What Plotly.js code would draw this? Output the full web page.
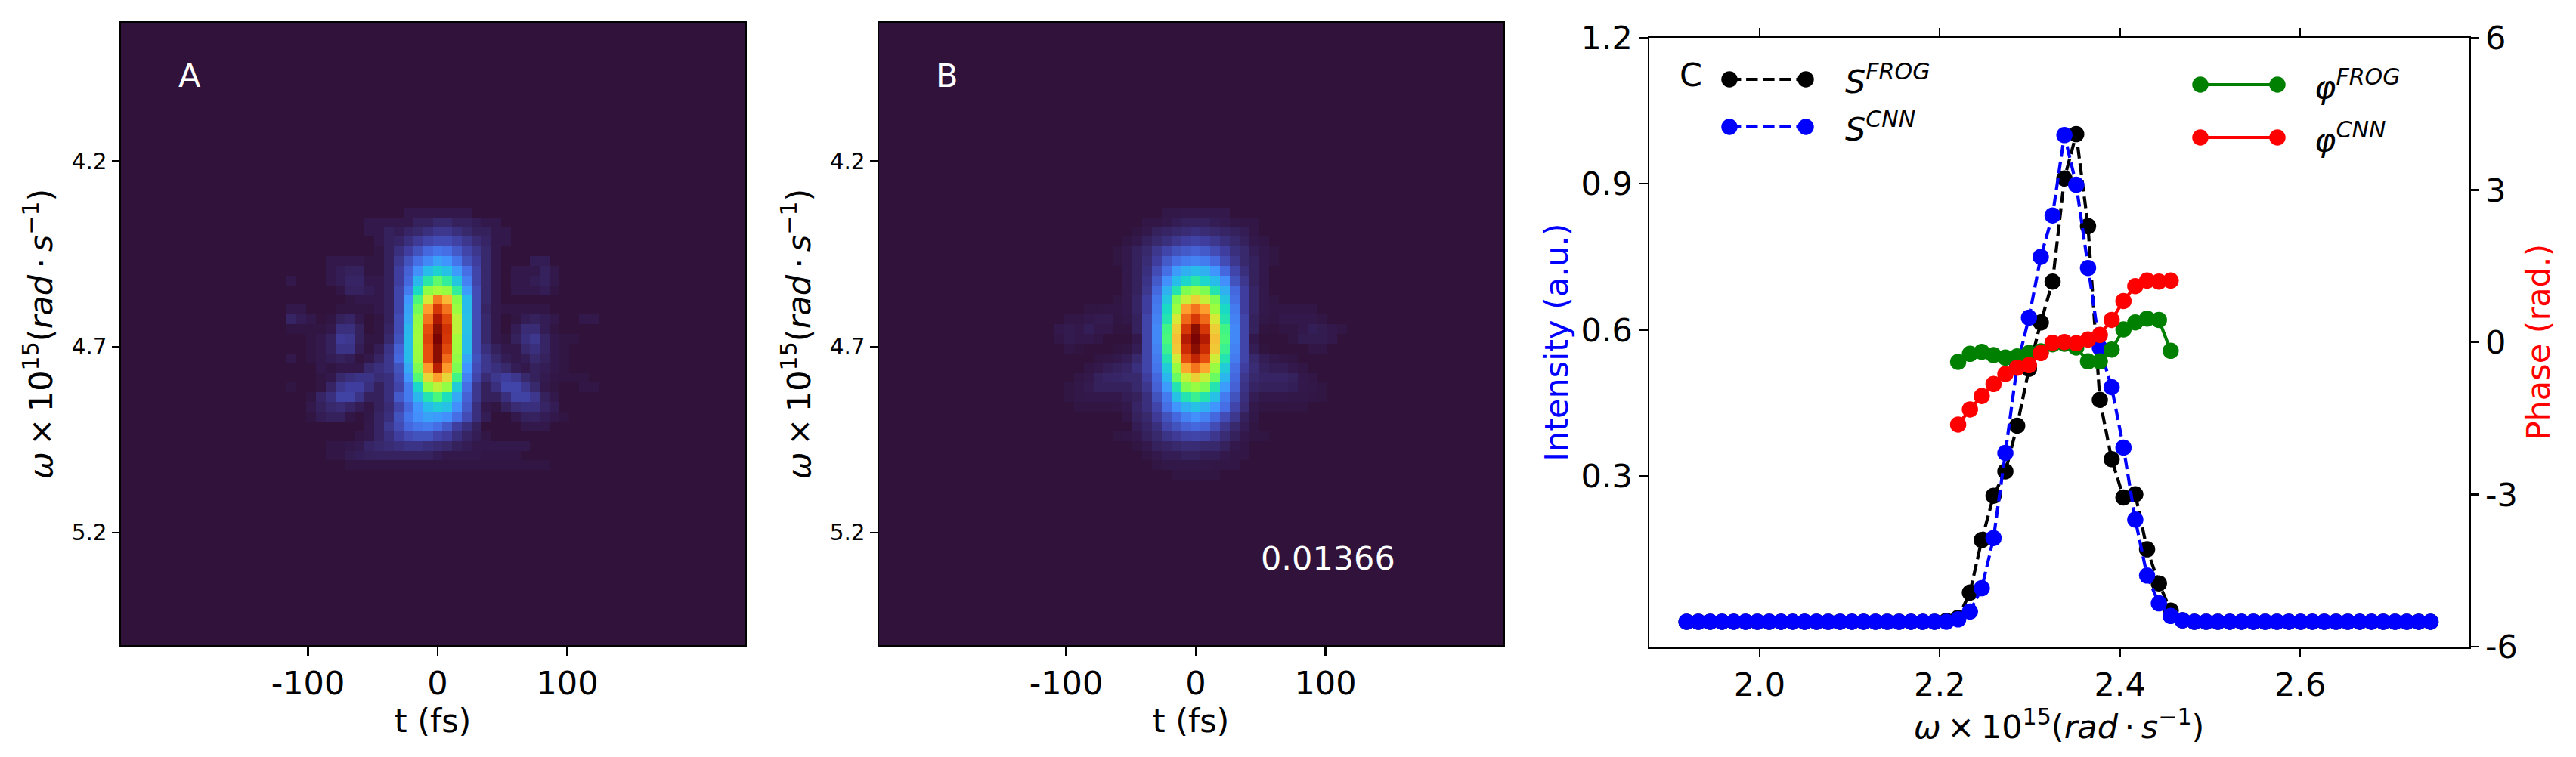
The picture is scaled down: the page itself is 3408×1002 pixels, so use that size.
<!DOCTYPE html>
<html><head><meta charset="utf-8">
<script src="https://cdn.plot.ly/plotly-3.0.1.min.js"></script>
<style>html,body{margin:0;padding:0;background:#fff}#plot{width:3408px;height:1002px}</style>
</head><body><div id="plot"></div>
<script>
// Heatmap intensity in percent: rows 19..46, columns 17..49 of a 64x64 grid (rest is zero)
const panelARows = [
[0,0,0,0,0,0,0,0,0,0,0,0,1,1,1,1,1,1,1],
[0,0,0,0,0,0,0,0,1,1,1,1,1,2,2,3,3,2,2,1.5,1,1],
[0,0,0,0,0,0,0,0,1,1,2,1.5,2.5,3,4,5,5,4,3,2,2,1,1],
[0,0,0,0,0,0,0,0,0,1,2,2.5,4,5.5,7,8,8,6.5,5,3.5,2.5,1,1],
[0,0,0,0,0,0,0,0,0,.5,2,4,6,9,12,14,13,10,7,5,3,1],
[0,0,0,0,1,1,1,1,.5,.5,2,5,9,13,17,21,19,14,9,6,3,1,0,0,0,1.5,1.5],
[0,0,0,0,1,1.5,2,2,.5,.5,2,6,11,18,25,29,26,20,13,7,3,1,0,1,1,1,2,1],
[1,0,0,0,1,1.5,2.5,2.5,1,1,2,6,12,24,34,40,35,27,16,7,3,1,0,1,1,1.5,2,1],
[0,0,0,0,0,.7,2.2,2.2,1.5,1,2,7,15,31,45,50,47,35,20,8,3,1,0,1,1,1,1.5,.5],
[0,0,0,0,0,0,.5,1,1,1,2,7,19,38,56,71,63,44,25,8,3,1],
[1,1,0,0,0,.5,.5,.5,.5,1,2,7,21,42,67,80,72,48,25,8,2.5,1,.7,.7,.7,.7,.7],
[2.5,1.5,1,.2,.5,2,2.5,1,0,.5,2,8,22,46,72,87,77,53,26,8,3,1,0,.5,1.5,2,1.5,1,0,0,1,1],
[.5,.5,.5,.5,1,4,4,2,0,.5,2.5,8,24,48,76,93,81,53,26,8,3,1,0,1.5,3.5,3.5,1.5,.5],
[0,0,.5,1,2,5.5,5,2,.5,.5,3,9,25,49,78,100,80,50,25,8,3,1,.5,2,4,5,2.5,1,.5,.5],
[0,0,.5,1,2,4.5,4.5,1.5,.3,1.5,4.5,11,25,48,76,93,77,49,25,8,4,2,1,1,3,4,2.5,1,.5],
[1,0,.5,1,1.5,2,1.5,.3,1,2.5,5,12,25,47,76,93,73,46,22,9,5,3,1.5,1,1.5,3,2,1,.5],
[0,0,0,1,.5,1,1,1,3,4,5,9,22,43,68,85,68,43,19,8,5,4,3,1.5,1,2,1.5,1,.5],
[0,0,0,.5,1,3,4,4.5,4.5,3.5,4,8,19,39,59,67,59,37,16,7,3.5,5,6,5,3,2,1.2,.6,.5,.5,.5],
[.5,0,0,.5,2.5,5,6,6,4,2,4,7,15,30,45,53,46,28,13,5,2,4,7,7,5,3,1,.5,0,0,.7,.7],
[0,0,.5,2.5,4,6.5,6.5,4.5,2,2,4,10,15,24,33,38,32,22,11,5,2,2,4,6.5,6.5,5,2,1],
[0,0,1,2,3,3.5,2.5,1.5,.7,2,3.5,7,12,19,25,28,26,18,10,4,1,.5,2,3.5,4,4,2.5,1.5],
[0,0,.5,1.5,2,2,.6,.2,.8,2.5,4,9,14,18,21,20,18,13,8,4,1.5,0,0,1,2,2.2,1.5,1,.5],
[0,0,0,0,0,0,0,0,1,2.5,5,8,12,14,15,13,10,6,4,2,0,0,0,0,1,1,1],
[0,0,0,0,0,0,0,.7,1,2.5,4,6,8,9,9,7,6,4,2.5,1.5,.7],
[0,0,0,0,.7,.7,1,1.2,2.5,3,3.5,4,4.5,4.5,4,3.5,3,2,1.5,1,1,1,1,1,1],
[0,0,0,0,.7,.7,1.3,1.7,2,2.2,2.2,2.2,2.2,2.2,2.2,1.5,1,1,1,1,.7,.7,.7,.7],
[0,0,0,0,0,0,.5,.5,.5,.5,.5,.5,.5,.5,.5,.5,.5,.5,.5,.5,.5,.5,.5,.5,.5,.5,.5],
[]
];
const panelBRows = [
[0,0,0,0,0,0,0,0,0,0,0,0,.8,.8,1,1,1,1,1],
[0,0,0,0,0,0,0,0,0,0,.7,.7,1,1.5,2,2,2,1.5,1.2,.8,.7,.7],
[0,0,0,0,0,0,0,0,0,.5,1,2,2.5,3,3.5,4,3.5,3,2.5,2,1.5,.7],
[0,0,0,0,0,0,0,0,.5,1,2,3,4,5,6,6.5,6,5,4,3,2,1,.7],
[0,0,0,0,0,0,0,.5,1,2,3,5,7,9,10,11,10,8,6,4,3,1.5,1,.5],
[0,0,0,0,0,0,0,.5,1,2,3.5,6,10,13,15,16,15,12,8,5,3,2,1,.5],
[0,0,0,0,0,0,0,0,1,2,4,8,13,20,23,25,23,19,12,7,4,2,1],
[0,0,0,0,0,0,0,0,1,2,4.5,10,18,25,30,34,30,25,18,9,5,2,1],
[0,0,0,0,0,0,0,0,1,2,5,12,23,33,43,47,43,33,23,12,6,2.5,1],
[0,0,0,0,0,0,0,.5,1,2.5,6,14,27,43,54,60,54,43,27,13,6,2.5,1,.5],
[0,0,0,0,.5,.5,.7,.7,1,2.5,6,15,31,48,67,72,67,48,31,15,6,2.5,1,.7,.7,.7,.7,.7],
[0,0,.7,.7,1,1.2,1.2,.5,.8,2,7,16,33,56,73,80,73,56,33,16,7,2,.8,.5,1,1,1,1,.7],
[0,1,1.2,1,1.7,1,1,.3,.3,2,7,17,37,60,80,93,80,60,37,17,7,2,.3,.2,.5,.5,1,1.7,1.3,1,.7],
[0,.7,1.2,1,1,.6,0,0,0,1,7,17,38,62,86,100,86,62,38,17,7,1,0,0,0,.5,1.3,1.3,1.3,1],
[0,0,.7,.3,0,0,0,.3,.5,1.5,7,16,36,61,82,93,82,61,36,16,7,1.5,.3,0,0,0,0,.7,.7],
[0,0,0,0,0,.5,.7,1,1.5,3,7,15,33,55,76,84,76,55,33,15,7,3,1.5,1,.7,.5],
[0,0,0,0,.7,1,1.5,2,2.5,4,7,14,28,47,66,72,66,47,28,13,6,3.5,2,1.5,1.5,1,.7],
[0,0,0,.7,1,2,2.5,2.7,3,3,6,12,24,41,54,60,54,41,24,12,5,3,2.5,2.5,2.5,2,1,.7],
[0,0,.5,.8,1.2,2,2,2,2,3,5,11,20,33,43,47,43,33,20,11,4.5,2.5,2,2,2,1.7,1,.8,.5],
[0,0,.5,.8,1,1,1,1,1.5,2,4,9,15,26,33,36,33,26,15,9,4,1.5,1,1,1,.8,.8,.7,.5],
[0,0,0,.5,.5,.5,.5,.7,1,2.5,4,7,13,19,23,26,23,19,13,7,3.5,1,.5,.5,.5,.5,.5],
[0,0,0,0,0,0,0,0,.7,2,3,5.5,9,12,16,18,16,12,8,5,2,.8],
[0,0,0,0,0,0,0,0,0,1.5,2.5,4,7,9,11,12,11,8,5,3,1.5,.5],
[0,0,0,0,0,0,0,.5,.7,1,2,3,4.5,5.5,6.5,7,6.5,5,3.5,2,1,.5,.5],
[0,0,0,0,0,0,0,0,0,.5,1,2,2.5,3,3.5,3.5,3,3,2,1,.7],
[0,0,0,0,0,0,0,0,0,0,.5,1,1.5,1.5,2,2,1.5,1.5,1,.7,.7],
[0,0,0,0,0,0,0,0,0,0,0,.5,.8,.8,.8,.8,.8,.7,.7,.7],
[0,0,0,0,0,0,0,0,0,0,0,0,0,.5,.5,.5,.5,.5]
];
const heatTickValsX = [-100,0,100];
const heatTickTextX = ['-100','0','100'];
const heatTickValsY = [4.2,4.7,5.2];
const heatTickTextY = ['4.2','4.7','5.2'];

// Spectrum: 64 samples
const sFrog = [0,0,0,0,0,0,0,0,0,0,0,0,0,0,0,0,0,0,0,0,0,0,.002,.008,.06,.168,.259,.309,.403,.52,.615,.699,.911,1.002,.813,.456,.334,.2555,.262,.149,.079,.023,.003,0,0,0,0,0,0,0,0,0,0,0,0,0,0,0,0,0,0,0,0,0];
const sCnn  = [0,0,0,0,0,0,0,0,0,0,0,0,0,0,0,0,0,0,0,0,0,0,0,.005,.021,.069,.172,.347,.527,.625,.75,.835,1.0,.898,.727,.563,.482,.358,.21,.095,.038,.012,.003,0,0,0,0,0,0,0,0,0,0,0,0,0,0,0,0,0,0,0,0,0];
// Phase: samples 23..41
const phiFrog = [-.387,-.228,-.189,-.253,-.303,-.278,-.213,-.179,-.04,-.03,-.104,-.377,-.377,-.144,.253,.392,.466,.441,-.169];
const phiCnn  = [-1.622,-1.324,-1.061,-.824,-.625,-.501,-.451,-.213,-.01,.005,-.02,.055,.144,.441,.813,1.106,1.216,1.196,1.216];
const specTickValsX=[2.0,2.2,2.4,2.6], specTickTextX=['2.0','2.2','2.4','2.6'];
const intTickVals=[.3,.6,.9,1.2], intTickText=['0.3','0.6','0.9','1.2'];
const phaseTickVals=[-6,-3,0,3,6], phaseTickText=['-6','-3','0','3','6'];

const turbo = [[0,'#30123b'],[.0627,'#4040a2'],[.125,'#466be3'],[.188,'#4294ff'],[.25,'#28bceb'],[.314,'#19dcc2'],[.376,'#45f780'],[.44,'#87fe48'],[.5,'#a4fc3c'],[.565,'#d9e937'],[.627,'#fabb36'],[.69,'#fe9129'],[.753,'#e8520f'],[.816,'#ce2e04'],[.878,'#a81401'],[.94,'#860d02'],[1,'#7a0403']];

const W=3408,H=1002, FONT='"DejaVu Sans", sans-serif', BIG=43, SMALL=29.5;
const boxA={l:160,r:985,t:30,b:854}, boxB={l:1163,r:1988,t:30,b:854}, boxC={l:2182,r:3266,t:50,b:856};
const dom=b=>({x:[b.l/W,b.r/W],y:[1-b.b/H,1-b.t/H]});
function full(rows){const z=[];for(let j=0;j<64;j++){const r=new Array(64).fill(0);const src=rows[j-19]||[];src.forEach((v,i)=>r[17+i]=v);z.push(r);}return z;}
const dt=7.516, w0=3.8274, dw=(5.5028-3.8274)/64;
const tAxis=[...Array(64).keys()].map(i=>(i-32)*dt);
const wAxis=[...Array(64).keys()].map(j=>w0+(j+.5)*dw);
const tRange=[-32.5*dt,31.5*dt], wRange=[w0+64*dw,w0];
const specX=[...Array(64).keys()].map(i=>1.9189+i*.013107);
const phaseX=specX.slice(23,42);

const lw=4.2, ms=21.5;
const dash=`15.4px,6.7px`;
const traces=[
 {type:'heatmap',x:tAxis,y:wAxis,z:full(panelARows),xaxis:'x',yaxis:'y',colorscale:turbo,zmin:0,zmax:100,showscale:false,zsmooth:false},
 {type:'heatmap',x:tAxis,y:wAxis,z:full(panelBRows),xaxis:'x2',yaxis:'y2',colorscale:turbo,zmin:0,zmax:100,showscale:false,zsmooth:false},
 {type:'scatter',mode:'lines+markers',x:specX,y:sFrog,name:'S FROG',xaxis:'x3',yaxis:'y3',line:{color:'#000',width:lw,dash},marker:{color:'#000',size:ms},cliponaxis:false},
 {type:'scatter',mode:'lines+markers',x:specX,y:sCnn,name:'S CNN',xaxis:'x3',yaxis:'y3',line:{color:'#0000ff',width:lw,dash},marker:{color:'#0000ff',size:ms},cliponaxis:false},
 {type:'scatter',mode:'lines+markers',x:phaseX,y:phiFrog,name:'phi FROG',xaxis:'x3',yaxis:'y4',line:{color:'#008000',width:lw},marker:{color:'#008000',size:ms},cliponaxis:false},
 {type:'scatter',mode:'lines+markers',x:phaseX,y:phiCnn,name:'phi CNN',xaxis:'x3',yaxis:'y4',line:{color:'#ff0000',width:lw},marker:{color:'#ff0000',size:ms},cliponaxis:false}
];
const axBase={showgrid:false,zeroline:false,showline:true,linecolor:'#000',linewidth:2.5,ticks:'outside',ticklen:11,tickwidth:2.2,tickcolor:'#000',tickmode:'array',automargin:false,fixedrange:true};
const labelTitle='<i>ω</i>\u2009×\u200910<sup>15</sup>(<i>rad</i>\u2009·\u2009<i>s</i><sup>−1</sup>)';
const tf=(s,c)=>({family:FONT,size:s,color:c||'#000'});
const heatX=(b,anchor)=>({...axBase,domain:dom(b).x,anchor,range:tRange,mirror:true,tickvals:heatTickValsX,ticktext:heatTickTextX,tickfont:tf(BIG),title:{text:'t (fs)',font:tf(BIG),standoff:8}});
const heatY=(b,anchor)=>({...axBase,domain:dom(b).y,anchor,range:wRange,mirror:true,ticklen:10,tickvals:heatTickValsY,ticktext:heatTickTextY,tickfont:tf(SMALL),title:{text:labelTitle,font:tf(BIG),standoff:12}});
const layout={
 width:W,height:H,margin:{l:0,r:0,t:0,b:0},paper_bgcolor:'#fff',plot_bgcolor:'#fff',showlegend:false,font:{family:FONT},
 xaxis:heatX(boxA,'y'),yaxis:heatY(boxA,'x'),
 xaxis2:heatX(boxB,'y2'),yaxis2:heatY(boxB,'x2'),
 xaxis3:{...axBase,domain:dom(boxC).x,anchor:'y3',range:[1.8776,2.787],mirror:'ticks',tickvals:specTickValsX,ticktext:specTickTextX,tickfont:tf(BIG),title:{text:labelTitle,font:tf(BIG),standoff:8}},
 yaxis3:{...axBase,domain:dom(boxC).y,anchor:'x3',range:[-.0512,1.2],tickvals:intTickVals,ticktext:intTickText,tickfont:tf(BIG),title:{text:'Intensity (a.u.)',font:tf(BIG,'#0000ff'),standoff:4}},
 yaxis4:{...axBase,domain:dom(boxC).y,anchor:'x3',overlaying:'y3',side:'right',range:[-6,6],tickvals:phaseTickVals,ticktext:phaseTickText,tickfont:tf(BIG),title:{text:'Phase (rad.)',font:tf(BIG,'#ff0000'),standoff:13}},
 shapes:[],annotations:[]
};
const px=x=>x/W, py=y=>1-y/H;
function note(x,y,text,color,anchor){layout.annotations.push({xref:'paper',yref:'paper',x:px(x),y:py(y),text,showarrow:false,xanchor:anchor||'left',yanchor:'middle',font:tf(BIG,color||'#000')});}
function handle(x1,x2,y,color,dashStyle,label,gap){
 layout.shapes.push({type:'line',xref:'paper',yref:'paper',x0:px(x1),x1:px(x2),y0:py(y),y1:py(y),line:{color,width:lw,dash:dashStyle||'solid'}});
 [x1,x2].forEach(x=>layout.shapes.push({type:'circle',xref:'paper',yref:'paper',x0:px(x-ms/2),x1:px(x+ms/2),y0:py(y+ms/2),y1:py(y-ms/2),fillcolor:color,line:{color,width:0}}));
 note(x2+gap,y,label);
}
handle(2288,2389,105,'#000',dash,'<i>S</i><sup><i>FROG</i></sup>',50);
handle(2288,2389,168,'#0000ff',dash,'<i>S</i><sup><i>CNN</i></sup>',50);
handle(2911,3013,112,'#008000',null,'<i>φ</i><sup><i>FROG</i></sup>',47);
handle(2911,3013,182,'#ff0000',null,'<i>φ</i><sup><i>CNN</i></sup>',47);
note(2220,99,'C');
note(234,100,'A','#fff');
note(1236,100,'B','#fff');
note(1666,739,'0.01366','#fff');
Plotly.newPlot('plot',traces,layout,{displayModeBar:false,staticPlot:true});
</script></body></html>
